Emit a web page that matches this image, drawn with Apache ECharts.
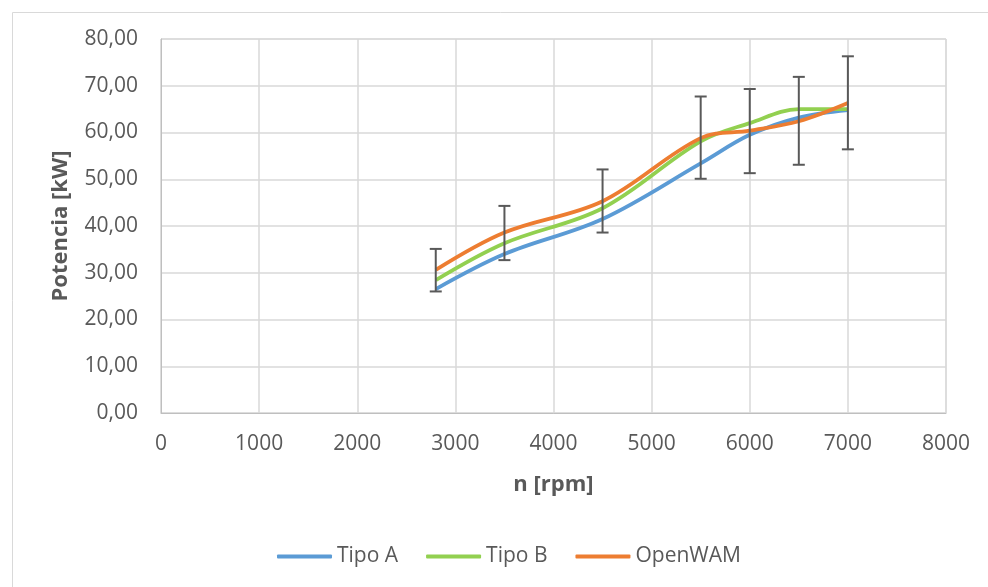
<!DOCTYPE html>
<html>
<head>
<meta charset="utf-8">
<script src="https://cdn.jsdelivr.net/npm/echarts@6/dist/echarts.min.js"></script>
<style>
html,body{margin:0;padding:0;background:#fff;}
#c{width:988px;height:587px;}
</style>
</head>
<body>
<div id="c"></div>
<script>
var rpm = [2800, 3500, 4500, 5500, 6000, 6500, 7000];
var tipoA = [26.5, 34.0, 41.5, 53.4, 59.5, 63.2, 64.8];
var tipoB = [28.4, 36.3, 43.8, 58.1, 62.0, 65.0, 65.0];
var openWAM = [30.6, 38.6, 45.3, 58.8, 60.4, 62.4, 66.3];
var errLow = [26.0, 32.7, 38.6, 50.1, 51.3, 53.1, 56.4];
var errHigh = [35.1, 44.3, 52.1, 67.7, 69.3, 71.9, 76.3];
var xTicks = [0, 1000, 2000, 3000, 4000, 5000, 6000, 7000, 8000];
var yTicks = [0, 10, 20, 30, 40, 50, 60, 70, 80];

function pairs(ys){ return rpm.map(function(x,i){return [x, ys[i]];}); }
var errData = rpm.map(function(x,i){return [x, errLow[i], errHigh[i]];});

var chart = echarts.init(document.getElementById('c'));
var font = '"Open Sans", "Liberation Sans", sans-serif';
chart.setOption({
  animation: false,
  textStyle: {fontFamily: font},
  graphic: [{
    type: 'rect', left: 10, top: 10, silent: true, z: -1,
    shape: {width: 1000, height: 600},
    style: {fill: 'none', stroke: '#d9d9d9', lineWidth: 1}
  }],
  grid: {left: 161, right: 42, top: 39, bottom: 174, show: true, borderColor: '#d9d9d9', borderWidth: 1},
  xAxis: {
    type: 'value', min: xTicks[0], max: xTicks[xTicks.length-1], interval: 1000,
    name: 'n [rpm]', nameLocation: 'middle', nameGap: 61,
    nameTextStyle: {fontSize: 22, fontWeight: 'bold', color: '#595959', fontFamily: font},
    axisLine: {show: true, lineStyle: {color: '#bfbfbf', width: 1}},
    axisTick: {show: false},
    axisLabel: {fontSize: 21, color: '#595959', margin: 21, fontFamily: font,
      formatter: function(v){ return String(v); }},
    splitLine: {show: true, lineStyle: {color: '#d9d9d9', width: 1.5}}
  },
  yAxis: {
    type: 'value', min: yTicks[0], max: yTicks[yTicks.length-1], interval: 10,
    name: 'Potencia [kW]', nameLocation: 'middle', nameGap: 89, nameRotate: 90,
    nameTextStyle: {fontSize: 22, fontWeight: 'bold', color: '#595959', fontFamily: font},
    axisLine: {show: true, lineStyle: {color: '#bfbfbf', width: 1}},
    axisTick: {show: false},
    axisLabel: {fontSize: 21, color: '#595959', margin: 23, fontFamily: font,
      formatter: function(v){ return v.toFixed(2).replace('.', ','); }},
    splitLine: {show: true, lineStyle: {color: '#d9d9d9', width: 1.5}}
  },
  legend: {
    top: 541, left: 272, itemWidth: 55, itemHeight: 4, itemGap: 28,
    icon: 'roundRect',
    textStyle: {fontSize: 21, color: '#595959', fontFamily: font},
    data: ['Tipo A', 'Tipo B', 'OpenWAM']
  },
  series: [
    {name: 'Tipo A', type: 'line', data: pairs(tipoA), smooth: 0.35, symbol: 'none',
     lineStyle: {width: 3.8, color: '#5B9BD5'}, itemStyle: {color: '#5B9BD5'}, z: 3},
    {name: 'Tipo B', type: 'line', data: pairs(tipoB), smooth: 0.35, symbol: 'none',
     lineStyle: {width: 3.8, color: '#92D050'}, itemStyle: {color: '#92D050'}, z: 4},
    {name: 'OpenWAM', type: 'line', data: pairs(openWAM), smooth: 0.35, symbol: 'none',
     lineStyle: {width: 3.8, color: '#ED7D31'}, itemStyle: {color: '#ED7D31'}, z: 5},
    {type: 'custom', data: errData, z: 6, silent: true,
     renderItem: function(params, api){
       var lo = api.coord([api.value(0), api.value(1)]);
       var hi = api.coord([api.value(0), api.value(2)]);
       var w = 6;
       var st = {stroke: '#595959', lineWidth: 2};
       return {type: 'group', children: [
         {type: 'line', shape: {x1: lo[0], y1: lo[1], x2: hi[0], y2: hi[1]}, style: st},
         {type: 'line', shape: {x1: lo[0]-w, y1: lo[1], x2: lo[0]+w, y2: lo[1]}, style: st},
         {type: 'line', shape: {x1: hi[0]-w, y1: hi[1], x2: hi[0]+w, y2: hi[1]}, style: st}
       ]};
     }}
  ]
});
</script>
</body>
</html>
